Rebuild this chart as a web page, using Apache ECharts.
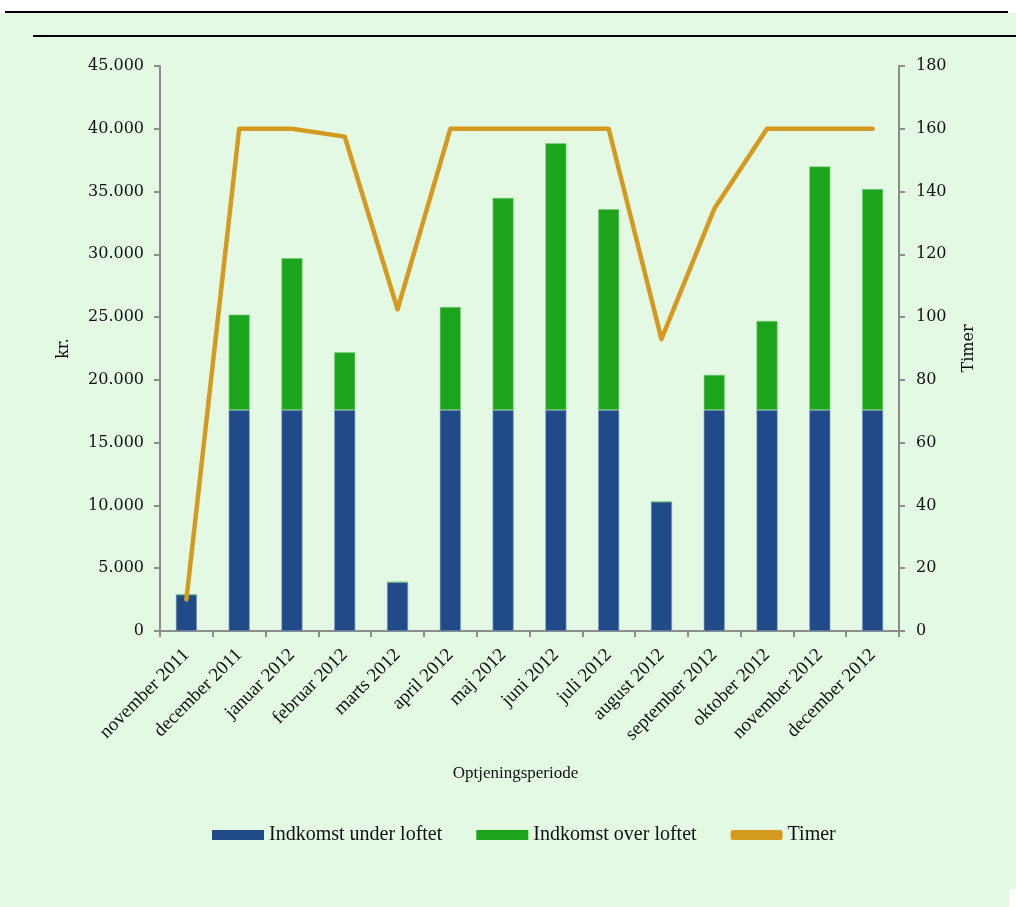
<meta charset="utf-8" />
<style>
html, body { margin: 0; padding: 0; background: #fff; }
#chart { width: 1016px; height: 907px; }
</style>
<div id="chart"></div>
<script src="https://cdn.jsdelivr.net/npm/echarts@6/dist/echarts.min.js"></script>
<script>
const months = [
  'november 2011', 'december 2011', 'januar 2012', 'februar 2012', 'marts 2012',
  'april 2012', 'maj 2012', 'juni 2012', 'juli 2012', 'august 2012',
  'september 2012', 'oktober 2012', 'november 2012', 'december 2012'
];
// total income per month, split at the ceiling
const underLoft = [2900, 17600, 17600, 17600, 3900, 17600, 17600, 17600, 17600, 10300, 17600, 17600, 17600, 17600];
const totalIncome = [2900, 25200, 29700, 22200, 3900, 25800, 34500, 38850, 33600, 10300, 20400, 24700, 37000, 35200];
const timer = [10, 160, 160, 157.5, 102.5, 160, 160, 160, 160, 93, 134.5, 160, 160, 160];

const overLoft = totalIncome.map((v, i) => v - underLoft[i]);

const BG = '#e4f9e4';
const AXIS = '#8c8c8c';
const serif = '"DejaVu Serif", serif';
const lib = '"Liberation Serif", serif';

const fmt = v => v === 0 ? '0' : (v / 1000).toFixed(0) + '.000';

const chart = echarts.init(document.getElementById('chart'));
chart.setOption({
  backgroundColor: '#fff',
  animation: false,
  graphic: [
    { type: 'rect', shape: { x: 0, y: 13, width: 1016, height: 894 }, style: { fill: BG }, z: -10 },
    { type: 'rect', shape: { x: 1009, y: 889, width: 7, height: 18 }, style: { fill: '#fff' }, z: -9 },
    { type: 'rect', shape: { x: 5, y: 11, width: 1003, height: 2 }, style: { fill: '#000' } },
    { type: 'rect', shape: { x: 33, y: 35, width: 983, height: 2 }, style: { fill: '#000' } }
  ],
  grid: { left: 160, right: 117, top: 66, bottom: 276, containLabel: false },
  legend: {
    top: 820,
    left: 207,
    itemWidth: 52,
    itemHeight: 10,
    itemGap: 34,
    itemStyle: { borderWidth: 0 },
    textStyle: { fontFamily: lib, fontSize: 20, color: '#111' },
    data: [
      { name: 'Indkomst under loftet', icon: 'rect' },
      { name: 'Indkomst over loftet', icon: 'rect' },
      { name: 'Timer', icon: 'roundRect', itemStyle: { color: '#d4991f' } }
    ]
  },
  xAxis: {
    type: 'category',
    data: months,
    name: 'Optjeningsperiode',
    nameLocation: 'middle',
    nameGap: 134,
    nameTextStyle: { fontFamily: lib, fontSize: 17, color: '#111', padding: [0, 28, 0, 0] },
    axisLine: { lineStyle: { color: AXIS, width: 2 } },
    axisTick: { show: true, length: 6, alignWithLabel: false, lineStyle: { color: AXIS, width: 2 } },
    axisLabel: {
      rotate: 45,
      interval: 0,
      margin: 21,
      fontFamily: lib,
      fontSize: 19,
      color: '#111'
    }
  },
  yAxis: [
    {
      type: 'value',
      min: 0,
      max: 45000,
      interval: 5000,
      name: 'kr.',
      nameLocation: 'middle',
      nameGap: 88,
      nameTextStyle: { fontFamily: serif, fontSize: 16, color: '#111' },
      splitLine: { show: false },
      axisLine: { show: true, lineStyle: { color: AXIS, width: 2 } },
      axisTick: { show: true, length: 6, lineStyle: { color: AXIS, width: 2 } },
      axisLabel: { formatter: fmt, margin: 16, fontFamily: serif, fontSize: 16, color: '#111' }
    },
    {
      type: 'value',
      min: 0,
      max: 180,
      interval: 20,
      name: 'Timer',
      nameLocation: 'middle',
      nameGap: 62,
      nameTextStyle: { fontFamily: serif, fontSize: 16, color: '#111' },
      splitLine: { show: false },
      axisLine: { show: true, lineStyle: { color: AXIS, width: 2 } },
      axisTick: { show: true, length: 6, lineStyle: { color: AXIS, width: 2 } },
      axisLabel: { margin: 17, fontFamily: serif, fontSize: 16, color: '#111' }
    }
  ],
  series: [
    {
      name: 'Indkomst under loftet',
      type: 'bar',
      stack: 'kr',
      barWidth: 21,
      data: underLoft,
      itemStyle: { color: '#214a89', borderColor: '#7f9bc0', borderWidth: 0.6 }
    },
    {
      name: 'Indkomst over loftet',
      type: 'bar',
      stack: 'kr',
      barWidth: 21,
      data: overLoft,
      itemStyle: { color: '#1ca51c', borderColor: '#7fd07f', borderWidth: 0.6 }
    },
    {
      name: 'Timer',
      type: 'line',
      yAxisIndex: 1,
      data: timer,
      symbol: 'none',
      lineStyle: { color: '#d4991f', width: 4.5, cap: 'round', join: 'round' },
      itemStyle: { color: '#d4991f' }
    }
  ]
});
</script>
